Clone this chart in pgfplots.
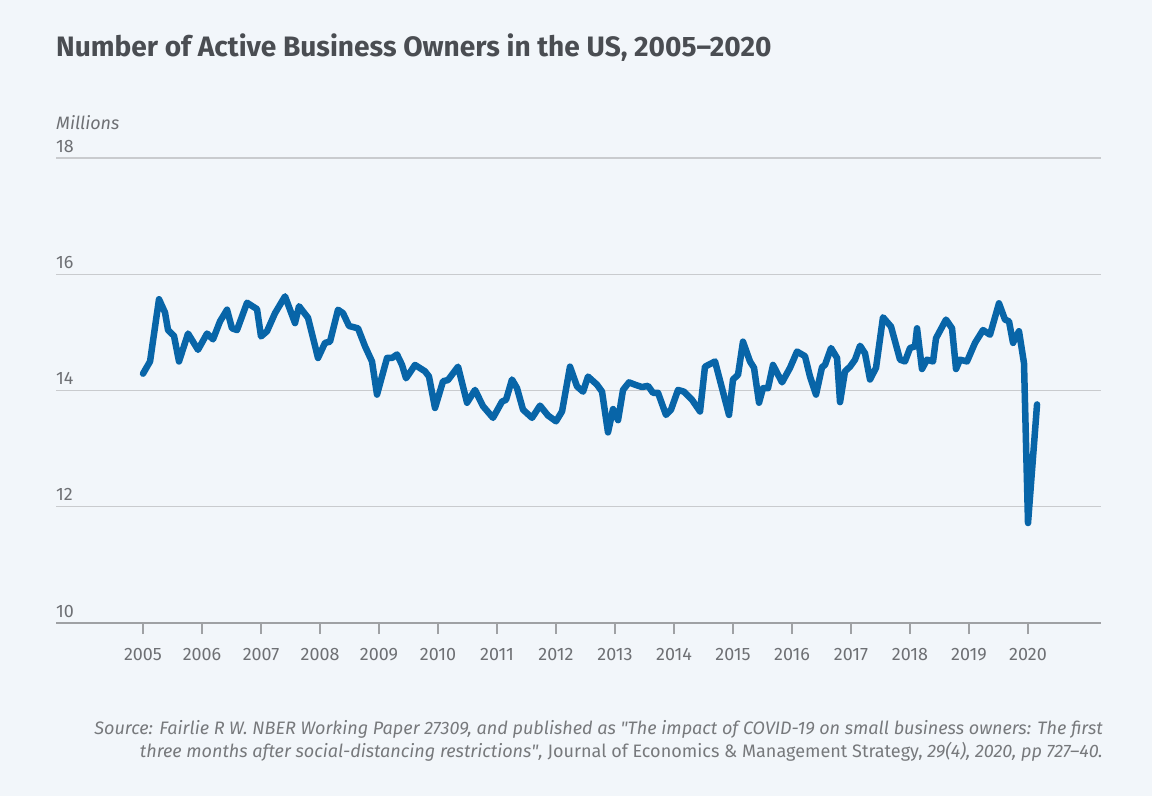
\documentclass[border=0pt]{standalone}
\usepackage{pgfplots}
\pgfplotsset{compat=1.18}
\usepackage{fontspec}
\setmainfont{Fira Sans}
\definecolor{bg}{HTML}{F2F6FA}
\definecolor{titlec}{HTML}{4A4D52}
\definecolor{tickc}{HTML}{6E7074}
\definecolor{gridc}{HTML}{C9CBCE}
\definecolor{axisc}{HTML}{9FA1A4}
\definecolor{linec}{HTML}{0865A8}
\definecolor{srcc}{HTML}{77797C}
\pgfplotstableread{
x y
2005.000 14.29
2005.119 14.50
2005.271 15.57
2005.373 15.34
2005.424 15.04
2005.525 14.94
2005.610 14.50
2005.763 14.98
2005.932 14.70
2006.085 14.98
2006.186 14.88
2006.305 15.19
2006.424 15.39
2006.508 15.07
2006.593 15.04
2006.763 15.51
2006.932 15.40
2007.000 14.93
2007.102 15.02
2007.237 15.33
2007.407 15.62
2007.576 15.16
2007.644 15.45
2007.797 15.25
2007.966 14.56
2008.085 14.82
2008.169 14.84
2008.305 15.39
2008.390 15.33
2008.492 15.11
2008.644 15.07
2008.763 14.76
2008.881 14.50
2008.966 13.93
2009.136 14.56
2009.220 14.56
2009.305 14.62
2009.390 14.44
2009.458 14.21
2009.610 14.44
2009.780 14.33
2009.847 14.24
2009.949 13.70
2010.085 14.16
2010.169 14.18
2010.339 14.41
2010.492 13.79
2010.627 14.01
2010.763 13.73
2010.932 13.53
2011.085 13.81
2011.153 13.84
2011.254 14.19
2011.339 14.04
2011.441 13.67
2011.593 13.53
2011.729 13.74
2011.864 13.57
2012.000 13.47
2012.102 13.64
2012.237 14.41
2012.356 14.07
2012.458 13.98
2012.542 14.24
2012.695 14.10
2012.780 13.98
2012.881 13.28
2012.966 13.68
2013.051 13.49
2013.136 14.01
2013.237 14.14
2013.339 14.10
2013.458 14.06
2013.559 14.08
2013.644 13.96
2013.729 13.96
2013.864 13.58
2013.949 13.67
2014.068 14.01
2014.169 13.98
2014.305 13.84
2014.441 13.64
2014.525 14.41
2014.695 14.50
2014.932 13.58
2015.000 14.19
2015.085 14.27
2015.169 14.84
2015.288 14.50
2015.356 14.39
2015.441 13.79
2015.508 14.04
2015.593 14.04
2015.678 14.44
2015.831 14.14
2015.966 14.39
2016.085 14.67
2016.220 14.59
2016.305 14.24
2016.407 13.93
2016.508 14.40
2016.559 14.44
2016.661 14.73
2016.763 14.56
2016.814 13.80
2016.898 14.33
2016.983 14.41
2017.068 14.53
2017.153 14.77
2017.237 14.64
2017.322 14.19
2017.424 14.39
2017.542 15.26
2017.678 15.10
2017.831 14.53
2017.915 14.50
2018.000 14.73
2018.085 14.76
2018.119 15.07
2018.203 14.37
2018.288 14.53
2018.390 14.50
2018.441 14.90
2018.610 15.22
2018.712 15.07
2018.780 14.37
2018.847 14.53
2018.966 14.50
2019.102 14.82
2019.237 15.04
2019.356 14.96
2019.508 15.50
2019.610 15.22
2019.678 15.19
2019.746 14.82
2019.847 15.02
2019.932 14.47
2020.000 11.72
2020.153 13.76
}\owners
\newcommand{\q}{\XeTeXglyph\XeTeXcharglyph"22\relax}
\begin{document}
\begin{tikzpicture}
\fill[bg] (0bp,0bp) rectangle (1152bp,-796bp);
\node[anchor=base west, inner sep=0pt, text=titlec, font=\fontsize{28.2}{33}\selectfont\bfseries] at (56bp,-56bp) {Number of Active Business Owners in the US, 2005–2020};
\node[anchor=base west, inner sep=0pt, text=tickc, font=\fontsize{18}{22}\selectfont\itshape] at (56bp,-129bp) {Millions};
\begin{axis}[
  at={(56bp,-623bp)}, anchor=south west,
  scale only axis, width=1045bp, height=465bp,
  xmin=2003.525, xmax=2021.237, ymin=10, ymax=18,
  ytick={10,12,14,16,18}, xtick={2005,2006,...,2020},
  axis line style={draw=none},
  ymajorgrids, grid style={draw=gridc, line width=1.2bp},
  major tick length=11bp,
  xtick style={draw=axisc, line width=1.2bp, yshift=-11bp},
  ytick style={draw=none},
  xtick pos=bottom, ytick pos=left,
  /pgf/number format/assume math mode=true,
  /pgf/number format/1000 sep={},
  xticklabel style={anchor=north, inner sep=0pt, yshift=-25bp, text=tickc, font=\fontsize{18}{22}\selectfont},
  yticklabel style={anchor=base west, inner sep=0pt, yshift=6bp, text=tickc, font=\fontsize{18}{22}\selectfont},
  clip=false,
]
\draw[axisc, line width=1.2bp] (rel axis cs:0,0) -- (rel axis cs:1,0);
\addplot[linec, line width=6.5bp, line join=round, line cap=round] table[x=x,y=y] {\owners};
\end{axis}
\node[anchor=base east, inner sep=0pt, text=srcc, font=\fontsize{18.1}{21}\selectfont\itshape] at (1103bp,-734bp) {Source: Fairlie R W. NBER Working Paper 27309, and published as \q The impact of COVID-19 on small business owners: The first};
\node[anchor=base east, inner sep=0pt, text=srcc, font=\fontsize{18.1}{21}\selectfont\itshape] at (1103bp,-757bp) {three months after social-distancing restrictions\q, {\upshape Journal of Economics \& Management Strategy,} 29(4), 2020, pp 727–40.};
\pgfresetboundingbox
\path[use as bounding box] (0bp,0bp) rectangle (1152bp,-796bp);
\end{tikzpicture}
\end{document}
